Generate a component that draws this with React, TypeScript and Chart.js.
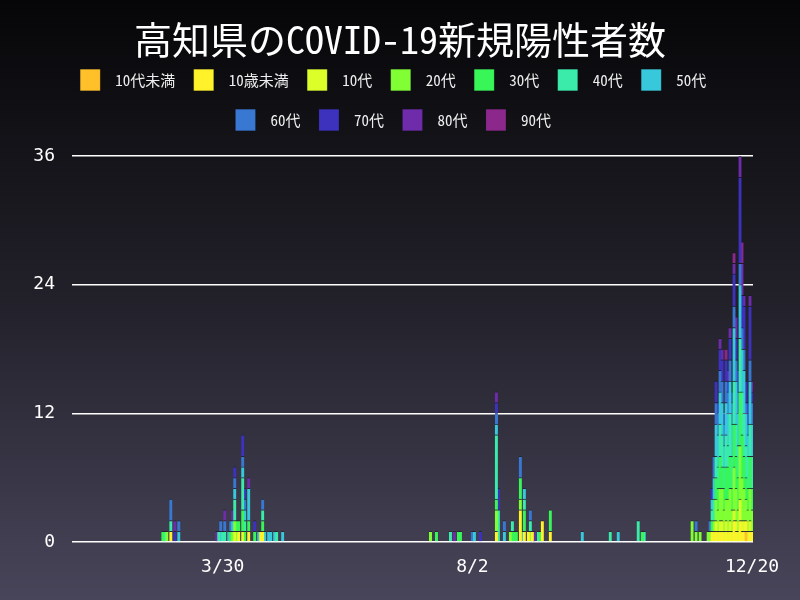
import { useEffect, useRef } from "react";
import { Chart, registerables } from "chart.js";

Chart.register(...registerables);

// ---- data -------------------------------------------------------------
const firstDay = { year: 2020, month: 1, day: 15 }; // first category on the axis
const dayCount = 341; // 1/15 .. 12/20
const shownTicks = ["3/30", "8/2", "12/20"];
const yMax = 36;
const yStep = 12;

const title = "高知県のCOVID-19新規陽性者数";
const seriesNames = ["10代未満", "10歳未満", "10代", "20代", "30代", "40代", "50代", "60代", "70代", "80代", "90代"];
const seriesColors = [
  "#ffc02a", "#fff22a", "#dcff2a", "#80ff34", "#38f558", "#3aebaa",
  "#38c8dc", "#3878d2", "#3c32be", "#6e2caa", "#8c288c",
];

type Entry = [string, number];

const under10a: Entry[] = [["12/17", 1]];
const under10b: Entry[] = [
  ["3/4", 1], ["4/7", 1], ["4/12", 1], ["4/18", 1], ["4/19", 1],
  ["8/14", 1], ["8/26", 3], ["8/28", 1], ["8/30", 1], ["9/1", 1], ["9/6", 2], ["9/10", 1],
  ["11/30", 1], ["12/2", 1], ["12/4", 1], ["12/5", 1], ["12/7", 1],
  ["12/9", 1], ["12/11", 2], ["12/12", 1], ["12/14", 2],
  ["12/15", 1], ["12/16", 1], ["12/17", 1], ["12/19", 1], ["12/20", 1],
];
const teens: Entry[] = [
  ["4/5", 1], ["4/9", 1], ["12/1", 1], ["12/2", 1], ["12/3", 1], ["12/4", 1], ["12/5", 1], ["12/6", 1],
  ["12/7", 1], ["12/8", 1], ["12/9", 1], ["12/10", 1], ["12/11", 1], ["12/12", 1], ["12/13", 1],
  ["12/14", 2], ["12/15", 1], ["12/16", 1], ["12/18", 1], ["12/19", 1],
];
const twenties: Entry[] = [
  ["3/2", 1], ["4/4", 1], ["4/5", 1], ["4/6", 1], ["7/12", 1], ["8/14", 2], ["8/21", 1], ["8/26", 1],
  ["8/31", 1], ["11/20", 2], ["11/22", 1], ["11/24", 1], ["11/28", 1], ["11/29", 1], ["12/1", 1],
  ["12/2", 2], ["12/3", 2], ["12/4", 3], ["12/5", 3], ["12/6", 2], ["12/7", 2], ["12/8", 3], ["12/9", 3],
  ["12/10", 2], ["12/11", 4], ["12/12", 3], ["12/13", 2], ["12/14", 5], ["12/15", 4], ["12/16", 3],
  ["12/17", 2], ["12/18", 2], ["12/19", 3], ["12/20", 2],
];
const thirties: Entry[] = [
  ["2/29", 1], ["4/3", 1], ["4/6", 1], ["4/7", 1], ["4/9", 2], ["4/10", 1], ["4/12", 1], ["4/15", 1],
  ["4/19", 1], ["7/15", 1], ["7/26", 1], ["7/27", 1], ["8/14", 1], ["8/22", 1], ["8/23", 1], ["8/24", 1],
  ["8/26", 2], ["8/28", 2], ["9/5", 1], ["9/10", 2], ["10/26", 1], ["11/30", 1], ["12/2", 2], ["12/3", 2],
  ["12/4", 3], ["12/5", 2], ["12/6", 2], ["12/7", 3], ["12/8", 3], ["12/9", 3], ["12/10", 2], ["12/11", 4],
  ["12/12", 3], ["12/13", 3], ["12/14", 5], ["12/15", 4], ["12/16", 3], ["12/17", 2], ["12/18", 2],
  ["12/19", 3], ["12/20", 2],
];
const forties: Entry[] = [
  ["3/1", 1], ["3/4", 1], ["3/28", 1], ["3/30", 1], ["3/31", 1], ["4/5", 2], ["4/9", 3], ["4/10", 1],
  ["4/19", 1], ["4/26", 1], ["7/22", 1], ["8/14", 6], ["8/15", 3], ["8/22", 1], ["8/28", 1], ["8/31", 1],
  ["9/4", 1], ["10/10", 1], ["10/24", 2], ["10/27", 1], ["11/30", 1], ["12/1", 2], ["12/2", 2], ["12/3", 2],
  ["12/4", 3], ["12/5", 3], ["12/6", 2], ["12/7", 3], ["12/8", 2], ["12/9", 4], ["12/10", 3], ["12/11", 4],
  ["12/12", 3], ["12/13", 3], ["12/14", 5], ["12/15", 4], ["12/16", 4], ["12/17", 3], ["12/18", 3],
  ["12/19", 3], ["12/20", 3],
];
const fifties: Entry[] = [
  ["3/8", 1], ["3/29", 1], ["4/2", 1], ["4/4", 1], ["4/5", 1], ["4/9", 1], ["4/10", 1], ["4/12", 3],
  ["4/17", 1], ["4/20", 1], ["4/22", 1], ["4/23", 1], ["4/25", 1], ["4/29", 1], ["8/3", 1], ["8/14", 1],
  ["8/18", 1], ["8/27", 1], ["8/28", 1], ["9/26", 1], ["10/14", 1], ["11/30", 1], ["12/1", 2], ["12/2", 3],
  ["12/3", 3], ["12/4", 3], ["12/5", 3], ["12/6", 2], ["12/7", 3], ["12/8", 3], ["12/9", 3], ["12/10", 3],
  ["12/11", 5], ["12/12", 4], ["12/13", 3], ["12/14", 5], ["12/15", 4], ["12/16", 4], ["12/17", 3],
  ["12/18", 2], ["12/19", 4], ["12/20", 3],
];
const sixties: Entry[] = [
  ["3/4", 2], ["3/8", 1], ["3/29", 1], ["3/31", 1], ["4/3", 1], ["4/5", 1], ["4/9", 1], ["4/10", 1],
  ["4/19", 1], ["8/2", 1], ["8/14", 1], ["8/18", 1], ["8/26", 2], ["8/31", 1], ["11/22", 1], ["11/29", 1],
  ["12/1", 2], ["12/2", 2], ["12/3", 2], ["12/4", 2], ["12/5", 2], ["12/6", 2], ["12/7", 2], ["12/8", 2],
  ["12/9", 2], ["12/10", 2], ["12/11", 2], ["12/12", 2], ["12/13", 2], ["12/14", 2], ["12/15", 2],
  ["12/16", 2], ["12/17", 1], ["12/18", 1], ["12/19", 2], ["12/20", 2],
];
const seventies: Entry[] = [
  ["3/6", 1], ["4/5", 1], ["4/9", 2], ["4/10", 1], ["4/15", 1], ["8/6", 1], ["8/14", 1], ["8/15", 2],
  ["11/30", 1], ["12/2", 2], ["12/3", 1], ["12/4", 2], ["12/5", 2], ["12/6", 1], ["12/7", 2], ["12/8", 1],
  ["12/9", 2], ["12/10", 1], ["12/11", 3], ["12/12", 2], ["12/13", 2], ["12/14", 8], ["12/15", 3],
  ["12/16", 4], ["12/17", 2], ["12/18", 2], ["12/19", 5], ["12/20", 1],
];
const eighties: Entry[] = [
  ["3/6", 1], ["3/27", 1], ["3/31", 1], ["4/4", 1], ["4/12", 1], ["7/24", 1], ["8/14", 1], ["9/2", 1],
  ["12/4", 1], ["12/5", 1], ["12/8", 1], ["12/9", 1], ["12/11", 1], ["12/12", 2], ["12/14", 2],
  ["12/15", 3], ["12/16", 1], ["12/19", 1], ["12/20", 1],
];
const nineties: Entry[] = [["12/7", 1], ["12/11", 1], ["12/15", 2]];

const seriesData = [under10a, under10b, teens, twenties, thirties, forties, fifties, sixties, seventies, eighties, nineties];

// ---- helpers ----------------------------------------------------------
const categories: string[] = [];
for (let i = 0; i < dayCount; i++) {
  const d = new Date(firstDay.year, firstDay.month - 1, firstDay.day + i);
  categories.push(`${d.getMonth() + 1}/${d.getDate()}`);
}

const fillSeries = (entries: Entry[]) => {
  const m = new Map(entries);
  return categories.map((c) => (m.has(c) ? (m.get(c) as number) : null));
};

const CJK_FONT = "'Noto Sans Mono CJK JP', 'DejaVu Sans Mono', 'Noto Sans CJK JP', monospace";
const TICK_FONT = "'DejaVu Sans Mono', monospace";

const bgPlugin = {
  id: "bgGradient",
  beforeDraw(chart: any) {
    const { ctx, width, height } = chart;
    const g = ctx.createLinearGradient(0, 0, 0, height);
    g.addColorStop(0, "#060608");
    g.addColorStop(0.5, "#22212a");
    g.addColorStop(1, "#48455a");
    ctx.save();
    ctx.fillStyle = g;
    ctx.fillRect(0, 0, width, height);
    ctx.restore();
  },
};

const titlePlugin = {
  id: "centeredTitle",
  afterDraw(chart: any) {
    const { ctx, width } = chart;
    ctx.save();
    ctx.font = `normal 38px ${CJK_FONT}`;
    ctx.fillStyle = "#ffffff";
    ctx.textAlign = "center";
    ctx.textBaseline = "middle";
    ctx.fillText(title, width / 2, 40);
    ctx.restore();
  },
};

export default function App() {
  const ref = useRef<HTMLCanvasElement | null>(null);

  useEffect(() => {
    if (!ref.current) return;
    const chart = new Chart(ref.current, {
      type: "bar",
      data: {
        labels: categories,
        datasets: seriesNames.map((name, i) => ({
          label: name,
          data: fillSeries(seriesData[i]),
          backgroundColor: seriesColors[i],
          borderColor: "rgba(20,20,30,0.55)",
          borderWidth: { top: 1, right: 0, bottom: 0, left: 0 },
          borderSkipped: "start",
          barThickness: 3,
        })) as any,
      },
      options: {
        animation: false,
        responsive: false,
        layout: { padding: { left: 22, right: 35.6, top: 50.75, bottom: 6.4 } },
        plugins: {
          title: { display: false },
          subtitle: {
            display: true,
            text: "",
            weight: 500,
            font: { size: 15.25, lineHeight: 1 },
            padding: 0,
          } as any,
          legend: {
            position: "top",
            labels: {
              color: "#eeeeee",
              font: { family: CJK_FONT, size: 15 },
              boxWidth: 20,
              boxHeight: 21.5,
              padding: 18.5,
              generateLabels: (c: any) =>
                Chart.defaults.plugins.legend.labels
                  .generateLabels(c)
                  .map((l: any) => ({ ...l, text: " " + l.text })),
            },
          },
          tooltip: { enabled: false },
        },
        scales: {
          x: {
            stacked: true,
            grid: { display: false, drawTicks: false },
            border: { display: false },
            ticks: {
              color: "#ffffff",
              font: { family: TICK_FONT, size: 18 },
              autoSkip: false,
              maxRotation: 0,
              minRotation: 0,
              padding: 15,
              callback: (_v: any, i: number) => (shownTicks.includes(categories[i]) ? categories[i] : ""),
            },
          },
          y: {
            stacked: true,
            min: 0,
            max: yMax,
            grid: { color: "#ffffff", lineWidth: 1.5, drawTicks: false },
            border: { display: false },
            ticks: {
              stepSize: yStep,
              color: "#ffffff",
              font: { family: TICK_FONT, size: 18 },
              padding: 17,
            },
            afterFit: (s: any) => {
              s.width = 50;
            },
          } as any,
          yRightSpace: {
            type: "linear",
            position: "right",
            display: true,
            grid: { display: false, drawTicks: false },
            border: { display: false },
            ticks: { display: false },
            afterFit: (s: any) => {
              s.width = 11.4;
            },
          } as any,
        },
      },
      plugins: [bgPlugin, titlePlugin],
    });
    return () => chart.destroy();
  }, []);

  return (
    <div style={{ position: "absolute", left: 0, top: 0, width: 800, height: 600 }}>
      <canvas ref={ref} width={800} height={600} style={{ display: "block" }} />
    </div>
  );
}
